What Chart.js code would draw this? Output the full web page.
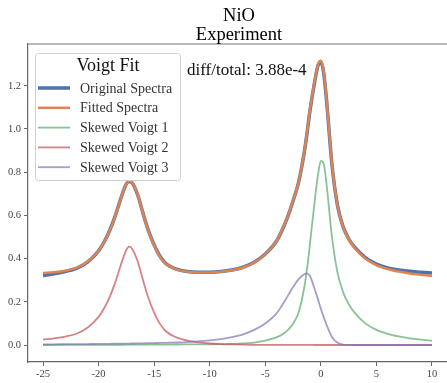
<!DOCTYPE html>
<html>
<head>
<meta charset="utf-8">
<script src="https://cdn.jsdelivr.net/npm/chart.js@4/dist/chart.umd.min.js"></script>
<style>
  html, body { margin: 0; padding: 0; background: #fff; overflow: hidden; }
  canvas { display: block; }
</style>
</head>
<body>
<canvas id="voigtChart" width="447" height="383"></canvas>
<script>
// energy axis samples (denser near the peaks)
const xs = [-25, -24, -23, -22, -21, -20, -19.5, -19, -18.5, -18, -17.5, -17.25, -17, -16.5, -16, -15.5, -15, -14.5, -14,
    -13, -12, -11, -10, -9, -8, -7, -6, -5, -4,
    -3.5, -3, -2.5, -2, -1.5, -1.25, -1, -0.5, -0.25, 0, 0.25, 0.5, 1, 1.5, 2, 2.5, 3,
    4, 5, 6, 7, 8, 9, 10];

const originalSpectra = [0.321, 0.33, 0.34, 0.355, 0.384, 0.436, 0.477, 0.53, 0.598, 0.678, 0.746, 0.757, 0.752, 0.698, 0.61, 0.527, 0.463, 0.413, 0.38,
    0.351, 0.34, 0.337, 0.337, 0.34, 0.347, 0.36, 0.383, 0.421, 0.48,
    0.53, 0.592, 0.667, 0.754, 0.89, 0.978, 1.078, 1.235, 1.295, 1.31, 1.262, 1.14, 0.835, 0.645, 0.548, 0.492, 0.455,
    0.404, 0.374, 0.357, 0.347, 0.341, 0.337, 0.333];

const fittedSpectra = [0.333, 0.337, 0.344, 0.357, 0.385, 0.436, 0.476, 0.529, 0.597, 0.678, 0.746, 0.759, 0.753, 0.699, 0.609, 0.525, 0.461, 0.411, 0.378,
    0.35, 0.339, 0.336, 0.336, 0.339, 0.346, 0.359, 0.382, 0.421, 0.481,
    0.531, 0.593, 0.668, 0.755, 0.893, 0.982, 1.082, 1.24, 1.30, 1.316, 1.27, 1.145, 0.837, 0.645, 0.547, 0.49, 0.452,
    0.40, 0.37, 0.352, 0.34, 0.331, 0.325, 0.32];

const skewedVoigt1 = [0, 0.0003, 0.0005, 0.0006, 0.0008, 0.001, 0.001, 0.001, 0.0012, 0.0012, 0.0013, 0.0013, 0.0013, 0.0014, 0.0015, 0.0016, 0.0017, 0.0018, 0.002,
    0.0023, 0.0027, 0.003, 0.0033, 0.004, 0.005, 0.007, 0.011, 0.02, 0.035,
    0.048, 0.068, 0.1, 0.15, 0.265, 0.35, 0.46, 0.69, 0.79, 0.852, 0.84, 0.75, 0.5, 0.335, 0.245, 0.19, 0.152,
    0.1, 0.07, 0.052, 0.04, 0.031, 0.025, 0.02];

const skewedVoigt2 = [0.025, 0.031, 0.039, 0.052, 0.08, 0.13, 0.17, 0.222, 0.29, 0.37, 0.44, 0.455, 0.447, 0.39, 0.30, 0.215, 0.15, 0.10, 0.066,
    0.035, 0.02, 0.012, 0.007, 0.004, 0.0025, 0.0015, 0.001, 0.0007, 0.0005,
    0.0004, 0.0003, 0.0003, 0.0002, 0.0002, 0.0002, 0.0002, 0.0001, 0.0001, 0.0001, 0.0001, 0.0001, 0.0001, 0.0001, 0, 0, 0,
    0, 0, 0, 0, 0, 0, 0];

const skewedVoigt3 = [0.003, 0.0033, 0.0037, 0.004, 0.0045, 0.005, 0.0053, 0.0056, 0.006, 0.0063, 0.0066, 0.0068, 0.007, 0.0074, 0.0078, 0.0083, 0.0088, 0.0094, 0.01,
    0.0115, 0.0135, 0.0165, 0.021, 0.027, 0.036, 0.049, 0.07, 0.1, 0.145,
    0.183, 0.225, 0.268, 0.305, 0.328, 0.332, 0.322, 0.25, 0.21, 0.168, 0.13, 0.095, 0.037, 0.01, 0.002, 0.0005, 0,
    0, 0, 0, 0, 0, 0, 0];

const xTicks = [-25, -20, -15, -10, -5, 0, 5, 10];
const yTicks = [0.0, 0.2, 0.4, 0.6, 0.8, 1.0, 1.2];

const titleLines = ['NiO', 'Experiment'];
const legendTitle = 'Voigt Fit';
const diffText = 'diff/total: 3.88e-4';

const serif = '"Liberation Serif", "Times New Roman", serif';

function toPoints(values) {
    return xs.map((x, i) => ({ x: x, y: values[i] }));
}

function series(label, values, color, width, order) {
    return {
        label: label,
        data: toPoints(values),
        borderColor: color,
        backgroundColor: color,
        borderWidth: width,
        pointRadius: 0,
        fill: false,
        cubicInterpolationMode: 'monotone',
        order: order
    };
}

// title, top spine, text and boxed legend drawn by hand (matplotlib look)
const decorations = {
    id: 'decorations',
    afterDraw(chart) {
        const ctx = chart.ctx;
        const area = chart.chartArea;
        ctx.save();

        ctx.strokeStyle = '#777';
        ctx.lineWidth = 1.2;
        ctx.beginPath();
        ctx.moveTo(area.left, area.top);
        ctx.lineTo(area.right, area.top);
        ctx.stroke();

        ctx.fillStyle = '#000';
        ctx.textAlign = 'center';
        ctx.textBaseline = 'alphabetic';
        ctx.font = '18.5px ' + serif;
        ctx.fillText(titleLines[0], 239, 21);
        ctx.fillText(titleLines[1], 239, 40);

        ctx.textAlign = 'left';
        ctx.font = '17px ' + serif;
        ctx.fillStyle = '#111';
        ctx.fillText(diffText, 187, 75);

        // legend box
        const bx = 35.5, by = 53.5, bw = 145, bh = 127;
        ctx.beginPath();
        ctx.roundRect(bx, by, bw, bh, 3);
        ctx.fillStyle = 'rgba(255,255,255,0.8)';
        ctx.fill();
        ctx.strokeStyle = '#d0d0d0';
        ctx.lineWidth = 1;
        ctx.stroke();

        ctx.fillStyle = '#111';
        ctx.textAlign = 'center';
        ctx.font = '18px ' + serif;
        ctx.fillText(legendTitle, bx + bw / 2, 71);

        ctx.textAlign = 'left';
        ctx.textBaseline = 'middle';
        ctx.font = '14px ' + serif;
        chart.data.datasets.forEach((ds, i) => {
            const y = 88 + i * 19.8;
            ctx.strokeStyle = ds.borderColor;
            ctx.lineWidth = ds.borderWidth;
            ctx.beginPath();
            ctx.moveTo(38, y);
            ctx.lineTo(70, y);
            ctx.stroke();
            ctx.fillStyle = '#333';
            ctx.fillText(ds.label, 80, y + 1);
        });
        ctx.restore();
    }
};

const axisColor = '#666';
const tickFont = { family: serif, size: 10.5 };

new Chart(document.getElementById('voigtChart').getContext('2d'), {
    type: 'line',
    data: {
        datasets: [
            series('Original Spectra', originalSpectra, '#4C72B0', 3.5, 5),
            series('Fitted Spectra', fittedSpectra, '#DD8452', 2.5, 4),
            series('Skewed Voigt 1', skewedVoigt1, 'rgba(85,168,104,0.7)', 1.8, 3),
            series('Skewed Voigt 2', skewedVoigt2, 'rgba(196,78,82,0.7)', 1.8, 2),
            series('Skewed Voigt 3', skewedVoigt3, 'rgba(129,114,179,0.7)', 1.8, 1)
        ]
    },
    options: {
        responsive: false,
        animation: false,
        devicePixelRatio: 1,
        layout: { padding: { top: 44, left: 0, right: 0, bottom: 0 } },
        plugins: {
            legend: { display: false },
            title: { display: false },
            tooltip: { enabled: false }
        },
        scales: {
            x: {
                type: 'linear',
                min: -26.35,
                max: 11.35,
                grid: { drawOnChartArea: false, drawTicks: true, tickLength: 4, color: axisColor },
                border: { display: true, color: axisColor, width: 1.2 },
                ticks: { font: tickFont, color: '#444', padding: 2, maxRotation: 0, autoSkip: false, callback: v => String(v) },
                afterBuildTicks: s => { s.ticks = xTicks.map(v => ({ value: v })); },
                afterFit: s => { s.height = 21; }
            },
            y: {
                type: 'linear',
                min: -0.0787,
                max: 1.3935,
                grid: { drawOnChartArea: false, drawTicks: true, tickLength: 4, color: axisColor },
                border: { display: true, color: axisColor, width: 1.2 },
                ticks: { font: tickFont, color: '#444', padding: 3, autoSkip: false, callback: v => Number(v).toFixed(1) },
                afterBuildTicks: s => { s.ticks = yTicks.map(v => ({ value: v })); },
                afterFit: s => { s.width = 28; }
            }
        }
    },
    plugins: [decorations]
});
</script>
</body>
</html>
